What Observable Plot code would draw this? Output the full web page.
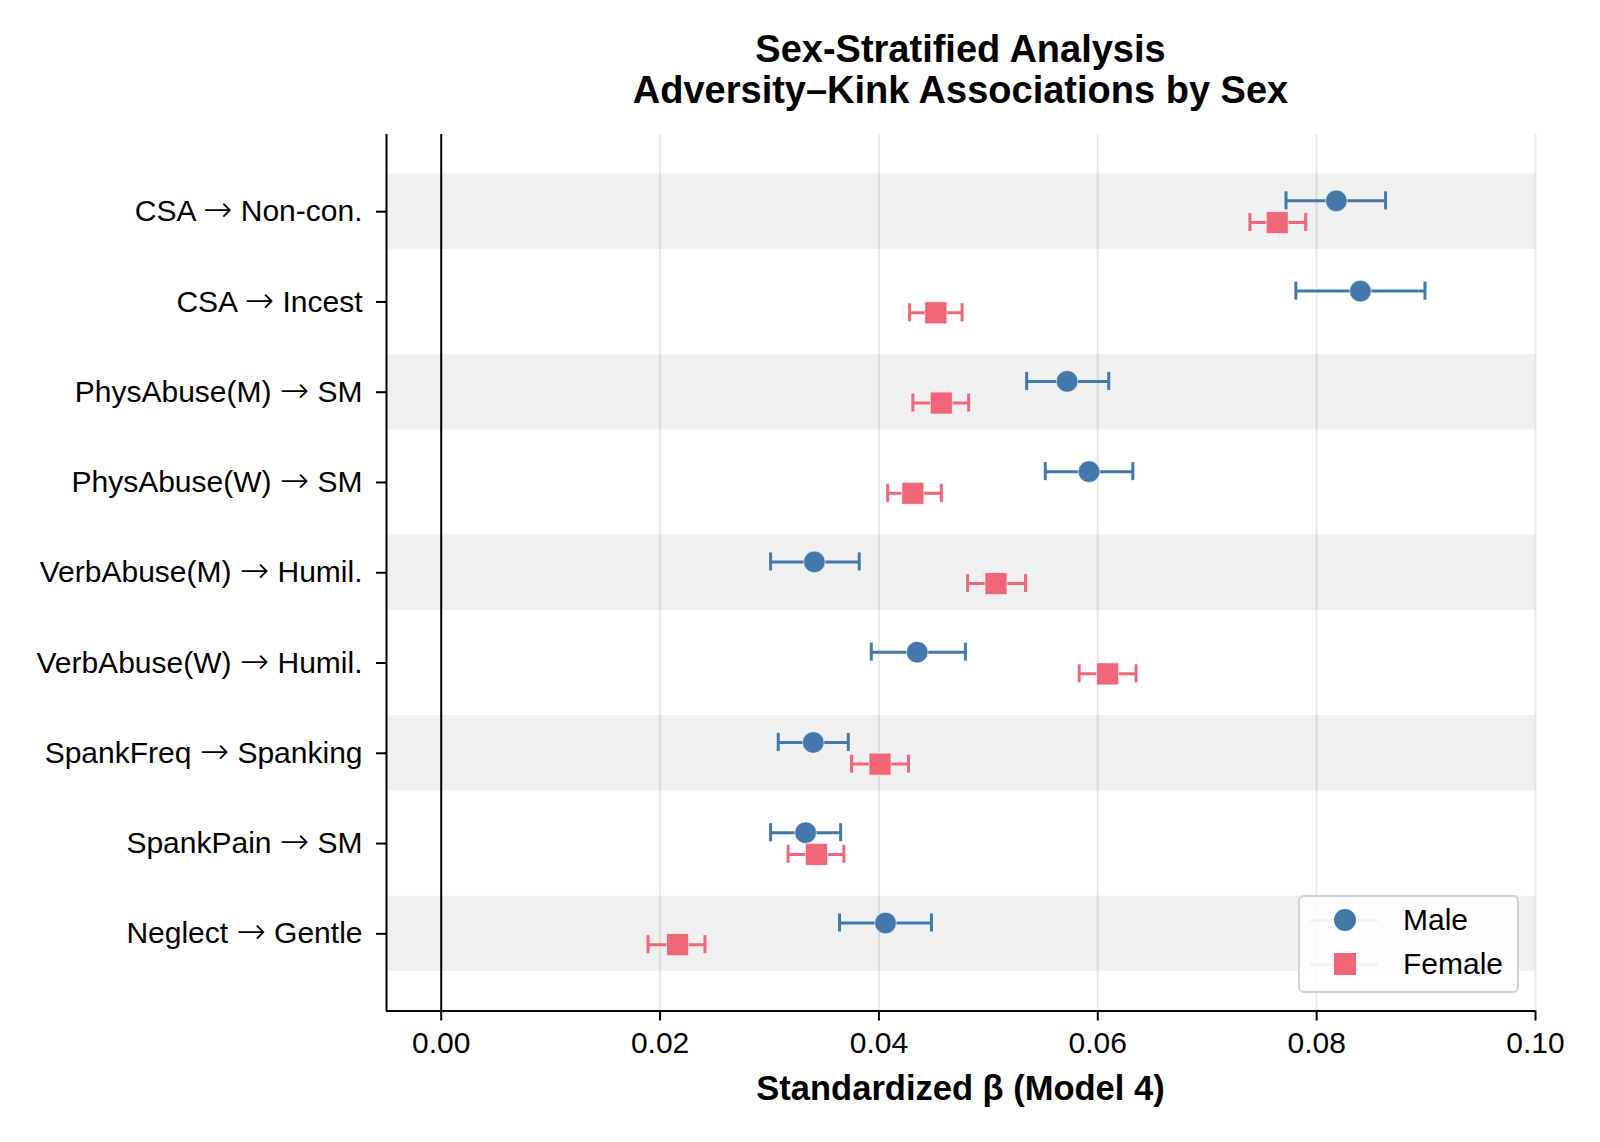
<!DOCTYPE html>
<html>
<head>
<meta charset="utf-8">
<script src="https://cdn.jsdelivr.net/npm/d3@7"></script>
<script src="https://cdn.jsdelivr.net/npm/@observablehq/plot@0.6"></script>
<style>
  html, body { margin: 0; padding: 0; background: #fff; }
  #wrap { position: relative; width: 1600px; height: 1142px; font-family: "Liberation Sans", Arial, Helvetica, sans-serif; color: #000; }
  .title { position: absolute; left: 386px; width: 1149px; text-align: center; font-weight: bold; font-size: 38px; line-height: 40px; white-space: nowrap; }
  .xlabel { position: absolute; left: 386px; width: 1149px; top: 1069px; text-align: center; font-weight: bold; font-size: 34.5px; line-height: 38px; }
  #chart { position: absolute; left: 0; top: 0; }
  .legend { position: absolute; left: 1298px; top: 895px; width: 217px; height: 94px; border: 2px solid #d0d0d0; border-radius: 6px; background: rgba(255,255,255,0.85); box-sizing: content-box; }
  .legend .row { position: absolute; left: 0; height: 40px; width: 100%; }
  .legend .ln { position: absolute; left: 10px; width: 68px; top: 19px; height: 3px; background: #f3f3f3; }
  .legend .mk { position: absolute; left: 34px; top: 9px; width: 22px; height: 22px; }
  .legend .tx { position: absolute; left: 103px; top: 0; font-size: 30px; line-height: 40px; }
</style>
</head>
<body>
<div id="wrap">
  <div class="title" style="top: 29px;">Sex-Stratified Analysis</div>
  <div class="title" style="top: 70px;">Adversity–Kink Associations by Sex</div>
  <div id="chart"></div>
  <div class="xlabel">Standardized β (Model 4)</div>
  <div class="legend" id="legend"></div>
</div>
<script>
const categories = [
  "CSA → Non-con.",
  "CSA → Incest",
  "PhysAbuse(M) → SM",
  "PhysAbuse(W) → SM",
  "VerbAbuse(M) → Humil.",
  "VerbAbuse(W) → Humil.",
  "SpankFreq → Spanking",
  "SpankPain → SM",
  "Neglect → Gentle"
];
const maleBeta = [0.0818, 0.0840, 0.0572, 0.0592, 0.0341, 0.0435, 0.0340, 0.0333, 0.0406];
const maleLo   = [0.0772, 0.0781, 0.0535, 0.0552, 0.0301, 0.0393, 0.0308, 0.0301, 0.0364];
const maleHi   = [0.0863, 0.0899, 0.0610, 0.0632, 0.0382, 0.0479, 0.0372, 0.0365, 0.0448];
const femaleBeta = [0.0764, 0.0452, 0.0457, 0.0431, 0.0507, 0.0609, 0.0401, 0.0343, 0.0216];
const femaleLo   = [0.0739, 0.0428, 0.0431, 0.0408, 0.0481, 0.0583, 0.0375, 0.0317, 0.0189];
const femaleHi   = [0.0790, 0.0476, 0.0482, 0.0457, 0.0534, 0.0635, 0.0427, 0.0368, 0.0241];
const xTicks = [0, 0.02, 0.04, 0.06, 0.08, 0.10];
const xDomain = [-0.005, 0.10];
const yDomain = [8.855, -0.855];
const series = [
  {name: "Male", color: "#4477AA", symbol: "circle", r: 10.8, offset: -0.12, beta: maleBeta, lo: maleLo, hi: maleHi},
  {name: "Female", color: "#EE6677", symbol: "square", r: 12.4, offset: 0.12, beta: femaleBeta, lo: femaleLo, hi: femaleHi}
];

const rows = [];
for (const s of series) {
  categories.forEach((c, i) => {
    rows.push({series: s.name, color: s.color, symbol: s.symbol, r: s.r, y: i + s.offset, beta: s.beta[i], lo: s.lo[i], hi: s.hi[i]});
  });
}
const bands = categories.map((c, i) => ({i})).filter(d => d.i % 2 === 0);
const capH = 0.1;

const marks = [
  Plot.rect(bands, {y1: d => d.i - 0.418, y2: d => d.i + 0.418, fill: "#f0f0f0"}),
  Plot.ruleX(xTicks.slice(1), {stroke: "#000", strokeOpacity: 0.09, strokeWidth: 2}),
  Plot.ruleX([0], {stroke: "#000", strokeWidth: 2}),
  Plot.ruleX([xDomain[0]], {stroke: "#000", strokeWidth: 2}),
  Plot.ruleY([yDomain[0]], {stroke: "#000", strokeWidth: 2}),
  Plot.axisX({ticks: xTicks, tickFormat: d3.format(".2f"), tickSize: 10, tickPadding: 11, strokeWidth: 2, label: null, fontSize: 30}),
  Plot.axisY({ticks: d3.range(categories.length), tickFormat: i => categories[i], tickSize: 10, tickPadding: 14, strokeWidth: 2, label: null, fontSize: 30, ariaLabel: "y-axis"})
];
for (const s of series) {
  const data = rows.filter(d => d.series === s.name);
  marks.push(
    Plot.ruleY(data, {y: "y", x1: "lo", x2: "hi", stroke: s.color, strokeWidth: 3}),
    Plot.ruleX(data, {x: "lo", y1: d => d.y - capH, y2: d => d.y + capH, stroke: s.color, strokeWidth: 3}),
    Plot.ruleX(data, {x: "hi", y1: d => d.y - capH, y2: d => d.y + capH, stroke: s.color, strokeWidth: 3}),
    Plot.dot(data, {x: "beta", y: "y", r: s.r, symbol: s.symbol, fill: s.color, stroke: "#fff", strokeWidth: 0.6})
  );
}

const chart = Plot.plot({
  width: 1600,
  height: 1142,
  marginTop: 134,
  marginBottom: 131.5,
  marginLeft: 386,
  marginRight: 65,
  style: {fontFamily: '"Liberation Sans", Arial, Helvetica, sans-serif', fontSize: "30px", color: "#000", background: "transparent"},
  x: {domain: xDomain, axis: null},
  y: {type: "linear", domain: yDomain, axis: null},
  marks
});
document.getElementById("chart").appendChild(chart);

// render the arrow glyph with a longer, thin arrow like the reference
const NS = "http://www.w3.org/2000/svg";
chart.querySelectorAll("text").forEach(t => {
  const s = t.textContent;
  if (!s.includes("→")) return;
  const [a, b] = s.split("→");
  while (t.firstChild) t.removeChild(t.firstChild);
  const t1 = document.createElementNS(NS, "tspan"); t1.textContent = a;
  const t2 = document.createElementNS(NS, "tspan"); t2.textContent = "→";
  t2.setAttribute("font-family", "DejaVu Sans");
  t2.setAttribute("font-weight", "200");
  t2.setAttribute("font-size", "35");
  const t3 = document.createElementNS(NS, "tspan"); t3.textContent = b;
  t.appendChild(t1); t.appendChild(t2); t.appendChild(t3);
});

const legend = document.getElementById("legend");
series.forEach((s, k) => {
  const row = document.createElement("div");
  row.className = "row";
  row.style.top = (k === 0 ? 3 : 47) + "px";
  const ln = document.createElement("div"); ln.className = "ln";
  const mk = document.createElement("div"); mk.className = "mk";
  mk.style.background = s.color;
  if (s.symbol === "circle") mk.style.borderRadius = "50%";
  const tx = document.createElement("div"); tx.className = "tx"; tx.textContent = s.name;
  row.appendChild(ln); row.appendChild(mk); row.appendChild(tx);
  legend.appendChild(row);
});
</script>
</body>
</html>
